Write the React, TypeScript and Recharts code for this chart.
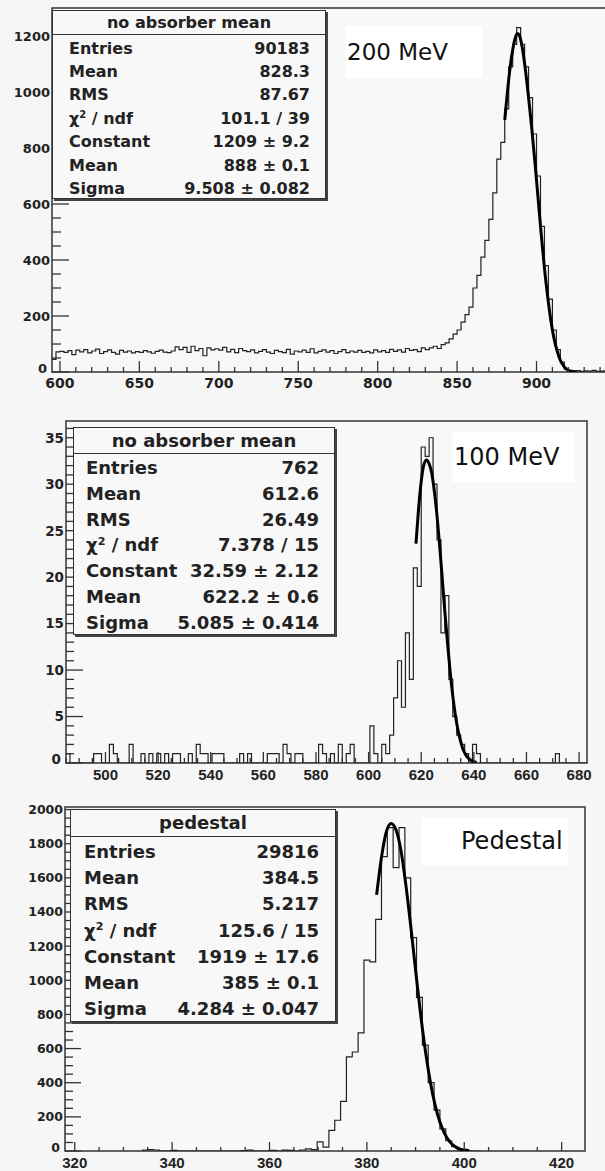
import React from 'react';
import { ComposedChart, Line, XAxis, YAxis, ReferenceArea } from 'recharts';

// ---- panel 1: 200 MeV ----
const p1Start = 595;
const p1Width = 2.5;
const p1Counts = [
  45, 72,
  74, 70, 76, 62, 78, 72, 80, 68, 75, 82, 66, 73, 79, 70, 64, 77, 71, 75, 68, 73,
  70, 76, 72, 67, 74, 78, 71, 69, 75, 90, 80, 88, 70, 92, 76, 84, 58, 86, 79, 83,
  78, 88, 72, 81, 69, 84, 76, 73, 79, 68, 74, 80, 71, 66, 77, 73, 69, 81, 64, 75,
  72, 78, 70, 83, 68, 74, 79, 71, 76, 66, 73, 80, 69, 75, 71, 77, 70, 74, 68, 79,
  72, 76, 70, 81, 74, 79, 71, 84, 77, 80, 73, 86,
  80, 86, 92, 84, 98, 104,
  118, 135, 150, 178, 205, 232, 300, 345, 410, 470, 545, 640, 760, 820, 940, 1090,
  1170, 1230, 1170, 1090, 980, 850, 700, 520, 380, 260, 150, 80, 35, 10,
  3, 2, 5, 2, 4, 3, 6, 2, 3, 4,
];
const p1FitX = [880, 881, 883, 885, 887, 888, 889, 891, 893, 895, 897, 899, 901, 903, 905, 907, 909, 911, 913, 915, 917, 919, 921, 923, 925];
const p1FitY = [900, 960, 1070, 1150, 1200, 1209, 1205, 1160, 1080, 980, 870, 750, 620, 490, 370, 270, 185, 120, 75, 42, 22, 10, 4, 1.5, 0.5];
const p1XLabels = [600, 650, 700, 750, 800, 850, 900];
const p1YLabels = [0, 200, 400, 600, 800, 1000, 1200];
const p1Title = 'no absorber mean';
const p1StatNames = ['Entries', 'Mean', 'RMS', 'chi2', 'Constant', 'Mean', 'Sigma'];
const p1StatValues = ['90183', '828.3', '87.67', '101.1 / 39', '1209 ± 9.2', '888 ± 0.1', '9.508 ± 0.082'];

// ---- panel 2: 100 MeV (non-empty bins only) ----
const p2Start = 485;
const p2Width = 1.5;
const p2NBins = 132;
const p2BinLow = [
  485, 495.5, 497, 501.5, 503, 509, 513.5, 516.5, 519.5, 522.5, 525.5, 527, 531.5, 534.5, 536, 537.5,
  540.5, 542, 543.5, 551, 554, 561.5, 563, 564.5, 567.5, 569, 572, 573.5, 581, 582.5, 585.5, 588.5,
  591.5, 593, 600.5, 602, 605, 606.5, 608, 609.5, 611, 612.5, 614, 615.5, 617, 618.5, 620, 621.5,
  623, 624.5, 626, 627.5, 629, 630.5, 632, 633.5, 635, 636.5, 639.5, 641, 671,
];
const p2BinCount = [
  1, 1, 1, 2, 1, 2, 1, 1, 1, 1, 1, 1, 1, 2, 1, 1,
  1, 1, 1, 1, 1, 1, 1, 1, 2, 1, 1, 1, 2, 1, 1, 2,
  1, 2, 4, 1, 2, 1, 3, 7, 11, 6, 14, 9, 21, 19, 34, 33,
  35, 30, 24, 14, 18, 9, 5, 3, 2, 1, 2, 1, 1,
];
const p2FitX = [618, 619, 620, 621, 622, 623, 624, 625, 626, 627, 628, 629, 630, 631, 632, 633, 634, 635, 636, 637, 638, 639, 640, 641];
const p2FitY = [23.6, 27.4, 30.3, 32.1, 32.6, 32.2, 31.2, 29.2, 26.6, 23.4, 19.8, 16.2, 12.9, 9.8, 7.2, 5.1, 3.5, 2.3, 1.4, 0.85, 0.5, 0.27, 0.14, 0.07];
const p2XLabels = [500, 520, 540, 560, 580, 600, 620, 640, 660, 680];
const p2YLabels = [0, 5, 10, 15, 20, 25, 30, 35];
const p2Title = 'no absorber mean';
const p2StatNames = ['Entries', 'Mean', 'RMS', 'chi2', 'Constant', 'Mean', 'Sigma'];
const p2StatValues = ['762', '612.6', '26.49', '7.378 / 15', '32.59 ± 2.12', '622.2 ± 0.6', '5.085 ± 0.414'];

// ---- panel 3: pedestal ----
const p3Start = 333.8;
const p3Width = 1.2;
const p3Counts = [
  6, 8, 6, 0, 0, 4, 0, 0, 0, 0, 0, 0, 0, 0, 0, 0, 0, 3, 5, 0, 0, 0, 4, 0, 5, 4, 0, 6, 12, 8,
  53, 23, 121, 180, 291, 551, 580, 692, 1118, 1108, 1357, 1724, 1894, 1660, 1894, 1600,
  1250, 900, 620, 400, 240, 130, 60, 25, 8, 2, 0, 0,
];
const p3FitX = [382, 383, 384, 385, 386, 387, 388, 389, 390, 391, 392, 393, 394, 395, 396, 397, 398, 399, 400, 401];
const p3FitY = [1500, 1720, 1870, 1919, 1880, 1760, 1560, 1320, 1060, 810, 590, 410, 270, 170, 100, 55, 28, 13, 6, 2];
const p3XLabels = [320, 340, 360, 380, 400, 420];
const p3YLabels = [0, 200, 400, 600, 800, 1000, 1200, 1400, 1600, 1800, 2000];
const p3Title = 'pedestal';
const p3StatNames = ['Entries', 'Mean', 'RMS', 'chi2', 'Constant', 'Mean', 'Sigma'];
const p3StatValues = ['29816', '384.5', '5.217', '125.6 / 15', '1919 ± 17.6', '385 ± 0.1', '4.284 ± 0.047'];

const INK = '#222';
const FRAME = '#333';
const PLOT_BG = '#f8f8f8';
const FONT = '"DejaVu Sans", "Liberation Sans", Arial, sans-serif';
const NARROW = '"Liberation Sans", Arial, sans-serif';

const steps = (start: number, width: number, counts: number[]) => {
  const pts = counts.map((c, i) => ({ x: start + i * width, y: c }));
  pts.push({ x: start + counts.length * width, y: counts[counts.length - 1] });
  return pts;
};

const fromSparse = (start: number, width: number, n: number, lows: number[], counts: number[]) => {
  const arr: number[] = new Array(n).fill(0);
  lows.forEach((lo, i) => {
    arr[Math.round((lo - start) / width)] = counts[i];
  });
  return arr;
};

const zip = (xs: number[], ys: number[]) => xs.map((x, i) => ({ x, y: ys[i] }));

const range = (a: number, b: number, step: number) => {
  const out: number[] = [];
  for (let v = a; v <= b + 1e-9; v += step) out.push(Math.round(v * 1000) / 1000);
  return out;
};

const isMajor = (labels: number[], v: number) => labels.some((l) => Math.abs(l - v) < 1e-6);

const xTick = (labels: number[], majorLen: number, minorLen: number, fs: number, family: string) => (props: any) => {
  const { x, y, payload } = props;
  const major = isMajor(labels, payload.value);
  return (
    <g>
      <line x1={x} x2={x} y1={y} y2={y - (major ? majorLen : minorLen)} stroke={FRAME} strokeWidth={1.3} />
      {major && (
        <text x={x} y={y + fs + 2} textAnchor="middle" fontSize={fs} fontWeight="bold" fontFamily={family} fill={INK}>
          {payload.value}
        </text>
      )}
    </g>
  );
};

const yTick = (labels: number[], majorLen: number, minorLen: number, fs: number) => (props: any) => {
  const { x, y, payload } = props;
  const major = isMajor(labels, payload.value);
  // the zero label sits a little higher and further left, clear of the first x label
  const zero = payload.value === 0;
  return (
    <g>
      <line x1={x} x2={x + (major ? majorLen : minorLen)} y1={y} y2={y} stroke={FRAME} strokeWidth={1.3} />
      {major && (
        <text
          x={x - (zero ? 5 : 2)}
          y={y + fs * 0.36 - (zero ? 4 : 0)}
          textAnchor="end"
          fontSize={fs}
          fontWeight="bold"
          fontFamily={FONT}
          fill={INK}
        >
          {payload.value}
        </text>
      )}
    </g>
  );
};

interface PanelProps {
  top: number;
  width: number;
  height: number;
  right: number;
  yAxisW: number;
  xDomain: [number, number];
  yMax: number;
  hist: { x: number; y: number }[];
  fit: { x: number; y: number }[];
  xTicks: number[];
  xLabels: number[];
  yTicks: number[];
  yLabels: number[];
  xFs: number;
  xFamily: string;
  yFs: number;
  xLens: [number, number];
  yLens: [number, number];
}

const Panel = (p: PanelProps) => (
  <div style={{ position: 'absolute', left: 0, top: p.top }}>
    <ComposedChart width={p.width} height={p.height} margin={{ top: 8, right: p.right, bottom: 8, left: 0 }}>
      <XAxis
        type="number"
        dataKey="x"
        domain={p.xDomain}
        allowDataOverflow
        ticks={p.xTicks}
        interval={0}
        tickSize={0}
        tickMargin={0}
        tickLine={false}
        axisLine={false}
        height={20}
        tick={xTick(p.xLabels, p.xLens[0], p.xLens[1], p.xFs, p.xFamily)}
      />
      <YAxis
        type="number"
        domain={[0, p.yMax]}
        allowDataOverflow
        ticks={p.yTicks}
        interval={0}
        tickSize={0}
        tickMargin={0}
        tickLine={false}
        axisLine={false}
        width={p.yAxisW}
        tick={yTick(p.yLabels, p.yLens[0], p.yLens[1], p.yFs)}
      />
      <ReferenceArea
        x1={p.xDomain[0]}
        x2={p.xDomain[1]}
        y1={0}
        y2={p.yMax}
        fill={PLOT_BG}
        fillOpacity={1}
        stroke={FRAME}
        strokeWidth={1.5}
        ifOverflow="visible"
      />
      <Line data={p.hist} dataKey="y" type="stepAfter" stroke={INK} strokeWidth={1.2} dot={false} isAnimationActive={false} />
      <Line data={p.fit} dataKey="y" type="monotone" stroke="#000" strokeWidth={3} dot={false} isAnimationActive={false} />
    </ComposedChart>
  </div>
);

interface StatsProps {
  left: number;
  top: number;
  width: number;
  height: number;
  titleH: number;
  firstRow: number;
  rowStep: number;
  fs: number;
  padL: number;
  padR: number;
  title: string;
  names: string[];
  values: string[];
}

const StatName = ({ name }: { name: string }) =>
  name === 'chi2' ? (
    <span>
      χ<span style={{ fontSize: '0.62em', position: 'relative', top: '-0.55em' }}>2</span> / ndf
    </span>
  ) : (
    <span>{name}</span>
  );

const StatsBox = (s: StatsProps) => {
  const lh = Math.round(s.fs * 1.2);
  return (
    <div
      style={{
        position: 'absolute',
        left: s.left,
        top: s.top,
        width: s.width,
        height: s.height,
        boxSizing: 'border-box',
        border: `1.5px solid ${FRAME}`,
        boxShadow: '2px 2px 0 #444',
        background: PLOT_BG,
        fontFamily: FONT,
        fontWeight: 'bold',
        fontSize: s.fs,
        color: INK,
      }}
    >
      <div
        style={{
          position: 'absolute',
          left: 0,
          top: 0,
          width: '100%',
          height: s.titleH,
          lineHeight: `${s.titleH}px`,
          textAlign: 'center',
          borderBottom: `1.5px solid ${FRAME}`,
        }}
      >
        {s.title}
      </div>
      {s.names.map((n, i) => (
        <div
          key={i}
          style={{
            position: 'absolute',
            left: s.padL,
            right: s.padR,
            top: s.firstRow + i * s.rowStep - lh / 2,
            height: lh,
            lineHeight: `${lh}px`,
            display: 'flex',
            justifyContent: 'space-between',
            whiteSpace: 'nowrap',
          }}
        >
          <StatName name={n} />
          <span>{s.values[i]}</span>
        </div>
      ))}
    </div>
  );
};

const Tag = ({ left, top, width, height, text, fs, padL }: any) => (
  <div
    style={{
      position: 'absolute',
      left,
      top,
      width,
      height,
      background: '#fff',
      fontFamily: FONT,
      fontSize: fs,
      color: '#111',
      lineHeight: `${height}px`,
      paddingLeft: padL,
      boxSizing: 'border-box',
      whiteSpace: 'nowrap',
    }}
  >
    {text}
  </div>
);

export default function App() {
  const p1Hist = steps(p1Start, p1Width, p1Counts);
  const p2Hist = steps(p2Start, p2Width, fromSparse(p2Start, p2Width, p2NBins, p2BinLow, p2BinCount));
  const p3Hist = steps(p3Start, p3Width, p3Counts);

  return (
    <div
      style={{
        position: 'absolute',
        left: 0,
        top: 0,
        width: 605,
        height: 1171,
        overflow: 'hidden',
        background: '#f6f6f6',
      }}
    >
      <Panel
        top={0}
        width={608}
        height={400}
        right={0}
        yAxisW={52}
        xDomain={[595, 945]}
        yMax={1300}
        hist={p1Hist}
        fit={zip(p1FitX, p1FitY)}
        xTicks={range(600, 940, 10)}
        xLabels={p1XLabels}
        yTicks={range(0, 1250, 50)}
        yLabels={p1YLabels}
        xFs={14}
        xFamily={FONT}
        yFs={13}
        xLens={[11, 5]}
        yLens={[17, 9]}
      />
      <StatsBox
        left={52}
        top={10}
        width={274}
        height={189}
        titleH={23}
        firstRow={37}
        rowStep={23.4}
        fs={16}
        padL={16}
        padR={15}
        title={p1Title}
        names={p1StatNames}
        values={p1StatValues}
      />
      <Tag left={345} top={26} width={138} height={52} text="200 MeV" fs={23} padL={2} />

      <Panel
        top={413}
        width={605}
        height={378}
        right={18}
        yAxisW={66}
        xDomain={[485, 683]}
        yMax={36.8}
        hist={p2Hist}
        fit={zip(p2FitX, p2FitY)}
        xTicks={range(485, 680, 5)}
        xLabels={p2XLabels}
        yTicks={range(0, 36, 1)}
        yLabels={p2YLabels}
        xFs={15}
        xFamily={NARROW}
        yFs={13.5}
        xLens={[11, 5]}
        yLens={[17, 8]}
      />
      <StatsBox
        left={73}
        top={427}
        width={262}
        height={208}
        titleH={25}
        firstRow={40}
        rowStep={25.8}
        fs={18}
        padL={12}
        padR={15}
        title={p2Title}
        names={p2StatNames}
        values={p2StatValues}
      />
      <Tag left={452} top={432} width={123} height={50} text="100 MeV" fs={24} padL={2} />

      <Panel
        top={799}
        width={605}
        height={380}
        right={20}
        yAxisW={65}
        xDomain={[318, 424.8]}
        yMax={2015}
        hist={p3Hist}
        fit={zip(p3FitX, p3FitY)}
        xTicks={range(320, 420, 5)}
        xLabels={p3XLabels}
        yTicks={range(0, 2000, 50)}
        yLabels={p3YLabels}
        xFs={15}
        xFamily={NARROW}
        yFs={12.5}
        xLens={[9, 4]}
        yLens={[16, 8]}
      />
      <StatsBox
        left={70}
        top={809}
        width={266}
        height={213}
        titleH={26}
        firstRow={42}
        rowStep={26.2}
        fs={18}
        padL={13}
        padR={16}
        title={p3Title}
        names={p3StatNames}
        values={p3StatValues}
      />
      <Tag left={421} top={817} width={147} height={48} text="Pedestal" fs={24} padL={40} />
    </div>
  );
}
